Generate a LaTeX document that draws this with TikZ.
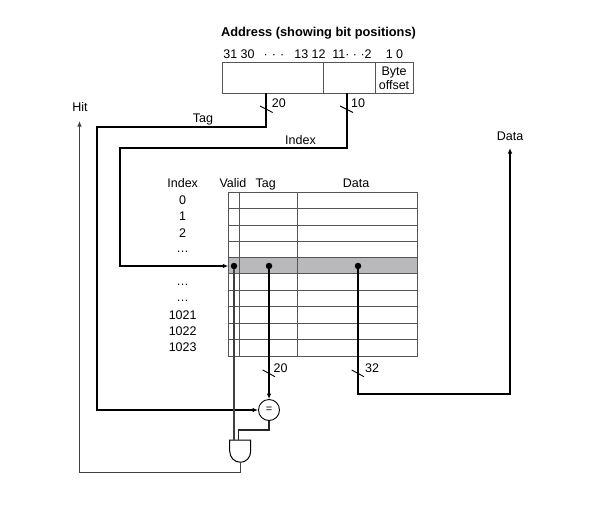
\documentclass[tikz,border=0pt]{standalone}
\usepackage{fontspec}
\setmainfont{Liberation Sans}
\usetikzlibrary{arrows.meta}
\definecolor{gridc}{HTML}{555558}
\definecolor{rowfill}{HTML}{B9B9BC}
\tikzset{
  lbl/.style={inner sep=0pt,anchor=base,font=\fontsize{12.5}{12.5}\selectfont},
  lbll/.style={lbl,anchor=base west},
  boxline/.style={draw=gridc,line width=0.85pt},
  bus/.style={draw=black,line width=1.6pt},
  busarrow/.style={bus,-{Latex[length=5.5pt,width=4.5pt]}},
  thinwire/.style={draw=black!75,line width=1.1pt},
  tick/.style={draw=black,line width=0.9pt},
  dotn/.style={circle,fill=black,inner sep=0pt,minimum size=6.5pt},
  addrcell/.style={boxline,rectangle,inner sep=0pt,anchor=north west}
}
\begin{document}
\begin{tikzpicture}[x=1pt,y=-1pt]
\useasboundingbox (0,0) rectangle (596,519);
\fill[white] (0,0) rectangle (596,519);
% title and bit positions
\node[lbl,font=\fontsize{12.8}{12.8}\selectfont\bfseries] (title) at (318.5,37) {Address (showing bit positions)};
\node[lbl] (b31) at (239,58) {31 30};
\node[lbl] (bd1) at (274,58) {·\,\,·\,\,·};
\node[lbl] (b13) at (310,58) {13 12};
\node[lbl] (b11) at (352,58) {11· · ·2};
\node[lbl] (b10) at (394.5,58) {1 0};
% address register
\node[addrcell,minimum width=101.3pt,minimum height=31pt] (atag) at (222,62.3) {};
\node[addrcell,minimum width=52pt,minimum height=31pt] (aidx) at (323.3,62.3) {};
\node[addrcell,minimum width=37.4pt,minimum height=31pt] (aoff) at (375.3,62.3) {};
\node[lbl] (byte) at (394,75) {Byte};
\node[lbl] (offs) at (394,89) {offset};
% cache
\fill[rowfill] (228.3,257.3) rectangle (417.3,273.7);
\node[boxline,rectangle,inner sep=0pt,anchor=north west,minimum width=189pt,minimum height=163.4pt] (cache) at (228.3,192.3) {};
\foreach \y in {208.6,225,241,257.3,273.7,290,306.3,323,339.3}
  \draw[boxline] (228.3,\y) -- (417.3,\y);
\foreach \x in {239,297.7}
  \draw[boxline] (\x,192.3) -- (\x,355.7);
% column heads and indices
\node[lbl] (hidx) at (182.7,187) {Index};
\node[lbl] (hval) at (233,187) {Valid};
\node[lbl] (htag) at (265.7,187) {Tag};
\node[lbl] (hdat) at (356,187) {Data};
\node[lbl] (i0) at (182.7,204) {0};
\node[lbl] (i1) at (182.7,220.5) {1};
\node[lbl] (i2) at (182.7,237) {2};
\node[lbl] (i3) at (182.7,252) {…};
\node[lbl] (i4) at (182.7,285) {…};
\node[lbl] (i5) at (182.7,301.5) {…};
\node[lbl] (i6) at (182.7,319) {1021};
\node[lbl] (i7) at (182.7,335) {1022};
\node[lbl] (i8) at (182.7,351.5) {1023};
% dots
\node[dotn] (dv) at (234,266) {};
\node[dotn] (dt) at (269,266) {};
\node[dotn] (dd) at (358,266) {};
% comparator and gate
\node[circle,draw=black,line width=0.9pt,minimum size=21pt,inner sep=0pt,font=\fontsize{11}{11}\selectfont] (eq) at (269,410) {=};
\coordinate (andtl) at (229.7,440);
\coordinate (andtr) at (250.7,440);
\coordinate (andb) at (240.5,462.3);
\draw[line width=1pt,draw=black] (andtl) -- (andtr) -- (250.7,451)
  .. controls (250.7,457.5) and (246,462.3) .. (andb)
  .. controls (234.5,462.3) and (229.7,457.5) .. (229.7,451) -- cycle;
\coordinate (andv) at (234,440);
\coordinate (andq) at (238.5,440);
% top wires
\coordinate (atagb) at (266,93.3);
\coordinate (aidxb) at (347,93.3);
\coordinate (idxin) at (228.3,266);
\draw[busarrow] (atagb) -- (266,127) -- (97,127) -- (97,410) -- (eq.west);
\draw[busarrow] (aidxb) -- (347,148) -- (120,148) -- (120,266) -- (idxin);
% down from the cache
\draw[thinwire,line width=1.3pt] (dv) -- (andv);
\draw[busarrow,line width=1.3pt] (dt) -- (eq.north);
\coordinate (dataup) at (510,148);
\draw[busarrow] (dd) -- (358,394) -- (510,394) -- (dataup);
\draw[draw=black!85,line width=1.2pt] (eq.south) -- (269,430) -- (238.5,430) -- (andq);
\coordinate (hitup) at (79.5,121);
\draw[thinwire,-{Latex[length=5.5pt,width=4.5pt]}] (andb) -- (240.5,472.5) -- (79.5,472.5) -- (hitup);
% slash ticks
\draw[tick] (260,106) -- (272.7,112.5);
\draw[tick] (340,106) -- (353,112.5);
\draw[tick] (262.7,370) -- (275,376.7);
\draw[tick] (351.7,370) -- (364,376.7);
% wire labels
\node[lbll] (n20) at (271.7,107) {20};
\node[lbll] (n10) at (351,107) {10};
\node[lbll] (n20b) at (273.5,372) {20};
\node[lbll] (n32) at (365,372) {32};
\node[lbl] (ltag) at (203,122) {Tag};
\node[lbl] (lidx) at (300.5,144) {Index};
\node[lbl] (lhit) at (80,111) {Hit};
\node[lbl] (ldat) at (510,140) {Data};
\end{tikzpicture}
\end{document}
